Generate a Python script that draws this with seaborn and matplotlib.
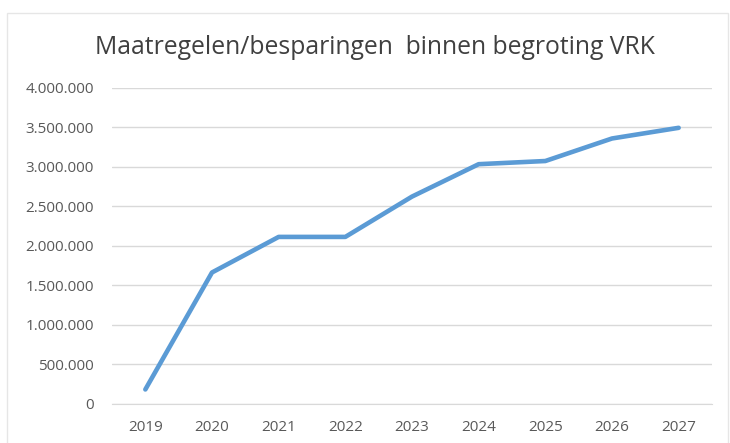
import matplotlib
matplotlib.use("Agg")
import matplotlib.pyplot as plt
import matplotlib.ticker as mticker
import pandas as pd
import seaborn as sns

years = ["2019", "2020", "2021", "2022", "2023", "2024", "2025", "2026", "2027"]
savings = [180000, 1660000, 2110000, 2110000, 2620000, 3030000, 3070000, 3355000, 3490000]

df = pd.DataFrame({"pos": range(len(years)), "jaar": years, "bedrag": savings})

sns.set_style("white")
plt.rcParams["font.family"] = ["Open Sans", "DejaVu Sans"]

fig = plt.figure(figsize=(7.30, 4.43), dpi=100)
ax = fig.add_axes([112 / 730, 1 - 403.7 / 443, 600 / 730, 316.2 / 443])

# faint chart frame like an Excel chart area
fig.patches.append(plt.Rectangle((7 / 730, -0.01), 721 / 730, 1 - 13 / 443 + 0.01,
                                 transform=fig.transFigure, fill=False,
                                 edgecolor="#E6E6E6", linewidth=1))

sns.lineplot(data=df, x="pos", y="bedrag", ax=ax, color="#5B9BD5", linewidth=3.3,
             solid_capstyle="round", solid_joinstyle="round")

ax.set_xlim(-0.5, len(years) - 0.5)
ax.set_ylim(0, 4000000)
ax.set_xticks(range(len(years)))
ax.set_xticklabels(years)
ax.yaxis.set_major_locator(mticker.MultipleLocator(500000))
ax.yaxis.set_major_formatter(mticker.FuncFormatter(lambda v, p: f"{int(v):,}".replace(",", ".")))
ax.grid(axis="y", color="#D9D9D9", linewidth=1)
ax.set_axisbelow(True)
for s in ["top", "right", "left"]:
    ax.spines[s].set_visible(False)
ax.spines["bottom"].set_color("#D9D9D9")
ax.tick_params(axis="both", length=0, labelsize=11, labelcolor="#595959")
ax.tick_params(axis="x", pad=12)
ax.tick_params(axis="y", pad=13)
ax.set_xlabel("")
ax.set_ylabel("")

fig.text(375 / 730, 1 - 47 / 443, "Maatregelen/besparingen  binnen begroting VRK",
         ha="center", va="center", fontsize=17.8, color="#404040")

fig.savefig("out.png", dpi=100)
